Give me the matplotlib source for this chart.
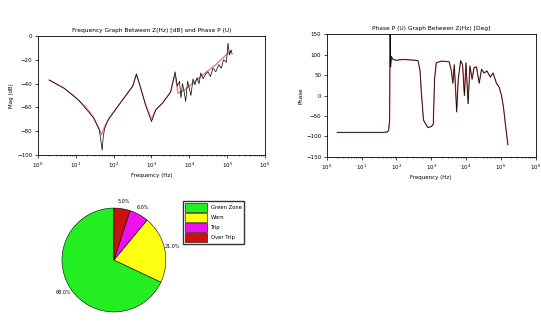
import matplotlib
matplotlib.use("Agg")
import matplotlib.pyplot as plt

# magnitude response, fitted (red) and measured (black)
fit_freq = [2, 3, 5, 8, 12, 20, 30, 40, 48, 52, 60, 80, 130, 200, 320, 400, 500, 700,
            1000, 1300, 2000, 3200, 4200, 5000, 7000, 10000, 20000, 50000, 100000, 130000]
fit_mag = [-37, -40, -44, -49, -54, -61, -69, -77, -83, -80, -75, -68, -59, -51, -42, -32,
           -42, -58, -70, -62, -56, -47, -32, -48, -46, -42, -34, -24, -15, -12]

meas_freq = [2, 5, 12, 30, 42, 50, 53, 58, 70, 130, 320, 400, 500, 700, 1000, 1300, 2000,
             3200, 4200, 4800, 5500, 6000, 6600, 7200, 8000, 9000, 10000, 11000, 12500,
             14000, 16000, 18000, 20000, 23000, 27000, 31000, 36000, 42000, 50000, 60000,
             70000, 80000, 95000, 105000, 115000, 125000, 135000]
meas_mag = [-37, -44, -54, -69, -79, -96, -85, -78, -71, -59, -42, -32, -42, -58, -72, -62,
            -56, -47, -30, -42, -38, -52, -40, -46, -55, -38, -44, -50, -36, -41, -35, -40,
            -31, -36, -32, -30, -34, -27, -30, -24, -27, -20, -22, -6, -16, -12, -15]

# phase response
phase_freq = [2, 5, 10, 20, 40, 55, 60, 64, 66, 68, 72, 80, 100, 150, 250, 350, 420, 480,
              520, 600, 800, 1000, 1150, 1250, 1400, 2000, 2800, 3300, 3800, 4200, 4600,
              5000, 5400, 6000, 7000, 8000, 9000, 10000, 11500, 13000, 15000, 17000, 20000,
              24000, 28000, 33000, 40000, 50000, 60000, 75000, 90000, 105000, 120000,
              140000, 160000]
phase_deg = [-90, -90, -90, -90, -90, -89, -85, -60, 150, 70, 95, 88, 86, 88, 87, 86, 85,
             60, 10, -60, -78, -76, -70, 40, 80, 84, 83, 82, 60, 30, 75, 20, -40, 40, 85,
             75, 0, 80, -20, 72, 40, 68, 70, 30, 64, 55, 60, 45, 55, 30, 20, 0, -30, -80,
             -120]

pie_labels = ["Green Zone", "Warn", "Trip", "Over Trip"]
pie_values = [68, 21, 6, 5]
pie_colors = ["#22ee22", "#ffff11", "#ee11ee", "#cc1111"]

plt.rcParams["font.size"] = 4
plt.rcParams["axes.linewidth"] = 0.6
plt.rcParams["xtick.major.width"] = 0.5
plt.rcParams["ytick.major.width"] = 0.5
plt.rcParams["xtick.minor.width"] = 0.4
plt.rcParams["ytick.minor.width"] = 0.4

fig = plt.figure(figsize=(5.41, 3.34), dpi=100)

ax1 = fig.add_axes([0.070, 0.536, 0.420, 0.356])
ax1.semilogx(fit_freq, fit_mag, color="#e08080", lw=1.0)
ax1.semilogx(meas_freq, meas_mag, color="black", lw=0.5)
ax1.set_xlim(1, 1e6)
ax1.set_ylim(-100, 0)
ax1.set_yticks([0, -20, -40, -60, -80, -100])
ax1.set_title("Frequency Graph Between Z(Hz) [dB] and Phase P (U)", fontsize=4.2, pad=3)
ax1.set_xlabel("Frequency (Hz)", labelpad=2)
ax1.set_ylabel("Mag (dB)", labelpad=2)
ax1.tick_params(length=2, pad=2)
ax1.tick_params(which="minor", length=1)

ax2 = fig.add_axes([0.604, 0.530, 0.386, 0.368])
ax2.semilogx(phase_freq, phase_deg, color="#e08080", lw=1.0)
ax2.semilogx(phase_freq, phase_deg, color="black", lw=0.5)
ax2.set_xlim(1, 1e6)
ax2.set_ylim(-150, 150)
ax2.set_yticks([150, 100, 50, 0, -50, -100, -150])
ax2.set_title("Phase P (U) Graph Between Z(Hz) [Deg]", fontsize=4.2, pad=3)
ax2.set_xlabel("Frequency (Hz)", labelpad=2)
ax2.set_ylabel("Phase", labelpad=2)
ax2.tick_params(length=2, pad=2)
ax2.tick_params(which="minor", length=1)

ax3 = fig.add_axes([0.0906, 0.027, 0.240, 0.389])
wedges, texts, autotexts = ax3.pie(
    pie_values, colors=pie_colors, startangle=90, autopct="%1.1f%%",
    pctdistance=1.15, wedgeprops={"edgecolor": "black", "linewidth": 0.4},
    textprops={"fontsize": 3.5})
ax3.set_aspect("equal")
fig.legend(wedges, pie_labels, loc="upper left", bbox_to_anchor=(0.334, 0.405),
           fontsize=3.8, frameon=True, handlelength=4, handleheight=2.0,
           borderpad=0.4, labelspacing=0.35, fancybox=False, edgecolor="black")

fig.savefig("out.png", dpi=100)
